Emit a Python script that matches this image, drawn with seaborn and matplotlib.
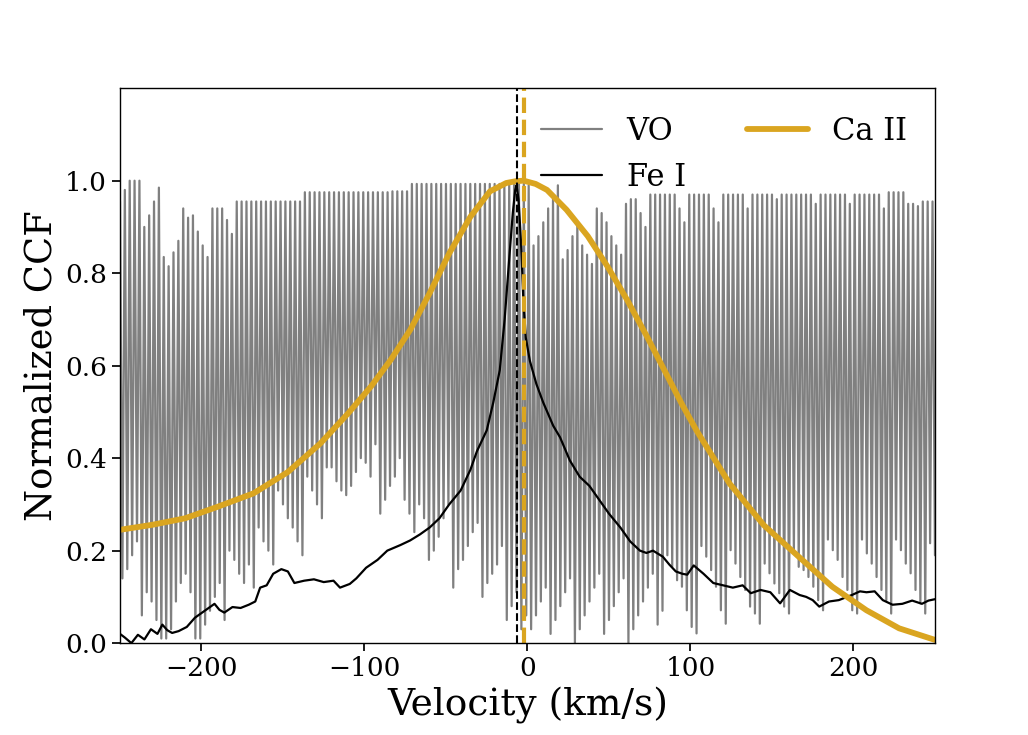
import numpy as np
import pandas as pd
import matplotlib
matplotlib.use("Agg")
import matplotlib.pyplot as plt
import seaborn as sns

# VO CCF: alternating maxima / minima of the fast oscillation, read left -> right
vo_peaks = [
    0.955, 0.98, 1.0, 1.0, 1.0, 0.90, 0.925, 0.955, 0.985, 0.835, 0.815, 0.845, 0.87, 0.94,
    0.92, 0.925, 0.89, 0.86, 0.835, 0.94, 0.94, 0.94, 0.915, 0.885, 0.955, 0.955, 0.955, 0.955,
    0.955, 0.955, 0.955, 0.955, 0.955, 0.955, 0.955, 0.955, 0.955, 0.955, 0.975, 0.975, 0.975, 0.975,
    0.975, 0.975, 0.975, 0.975, 0.975, 0.975, 0.975, 0.975, 0.975, 0.975, 0.975, 0.975, 0.975, 0.975,
    0.977, 0.977, 0.977, 0.977, 0.993, 0.993, 0.993, 0.993, 0.993, 0.993, 0.993, 0.993, 0.993, 0.993,
    0.993, 0.993, 0.993, 0.993, 0.993, 0.993, 0.993, 0.993, 0.993, 0.993, 0.993, 0.993, 0.993, 0.993,
    0.99, 0.86, 0.88, 0.91, 0.94, 0.96, 0.99, 0.83, 0.85, 0.88, 0.91, 0.86, 0.84, 0.82,
    0.94, 0.93, 0.91, 0.88, 0.86, 0.84, 0.95, 0.96, 0.96, 0.93, 0.90, 0.97, 0.97, 0.97,
    0.97, 0.97, 0.97, 0.94, 0.91, 0.97, 0.97, 0.97, 0.97, 0.97, 0.94, 0.91, 0.97, 0.97,
    0.97, 0.97, 0.97, 0.94, 0.97, 0.97, 0.97, 0.97, 0.97, 0.96, 0.97, 0.97, 0.97, 0.97,
    0.97, 0.97, 0.97, 0.95, 0.97, 0.97, 0.97, 0.97, 0.97, 0.97, 0.95, 0.97, 0.97, 0.97,
    0.97, 0.97, 0.97, 0.94, 0.975, 0.975, 0.975, 0.975, 0.95, 0.95, 0.945, 0.955, 0.955, 0.955,
]
vo_troughs = [
    0.14, 0.16, 0.19, 0.22, 0.06, 0.11, 0.09, 0.05, 0.01, 0.01, 0.03, 0.09, 0.13, 0.15,
    0.11, 0.01, 0.01, 0.04, 0.07, 0.10, 0.13, 0.05, 0.20, 0.18, 0.15, 0.13, 0.17, 0.12,
    0.25, 0.22, 0.20, 0.17, 0.33, 0.30, 0.27, 0.25, 0.22, 0.19, 0.36, 0.33, 0.30, 0.27,
    0.38, 0.38, 0.35, 0.33, 0.32, 0.34, 0.37, 0.40, 0.39, 0.36, 0.43, 0.28, 0.31, 0.34,
    0.36, 0.40, 0.31, 0.28, 0.24, 0.30, 0.27, 0.18, 0.20, 0.23, 0.27, 0.30, 0.12, 0.16,
    0.18, 0.21, 0.24, 0.26, 0.10, 0.13, 0.15, 0.17, 0.21, 0.05, 0.08, 0.11, 0.03, 0.06,
    0.03, 0.06, 0.09, 0.12, 0.02, 0.05, 0.08, 0.11, 0.14, 0.00, 0.03, 0.06, 0.09, 0.12,
    0.15, 0.02, 0.05, 0.08, 0.11, 0.14, 0.00, 0.03, 0.06, 0.09, 0.12, 0.15, 0.04, 0.07,
    0.19, 0.165, 0.136, 0.122, 0.071, 0.035, 0.021, 0.21, 0.187, 0.158, 0.122, 0.071, 0.042, 0.201,
    0.172, 0.143, 0.115, 0.079, 0.064, 0.042, 0.172, 0.151, 0.129, 0.108, 0.079, 0.064, 0.194, 0.165,
    0.158, 0.143, 0.122, 0.093, 0.071, 0.224, 0.201, 0.18, 0.143, 0.115, 0.071, 0.064, 0.224, 0.194,
    0.172, 0.143, 0.115, 0.093, 0.064, 0.224, 0.201, 0.172, 0.151, 0.115, 0.086, 0.064, 0.216, 0.19,
]

# Fe I CCF
fe_v = [-250, -247, -243, -239, -235, -231, -227, -224, -221, -218, -214, -209, -204, -198,
        -192, -189, -186, -181, -176, -171, -167, -164, -160, -156, -151, -147, -143, -137,
        -131, -125, -119, -115, -109, -105, -99, -92, -86, -78, -72, -66, -60, -54,
        -48, -41, -35, -31, -25, -21, -17, -14, -11, -9, -7.5, -6.7, -5.5, -4,
        -2.5, -1, 1.5, 5.5, 9.7, 15.8, 20, 26, 32, 38, 44, 50, 57, 63,
        69, 73, 77, 83, 87, 91, 95, 98, 102, 108, 114, 120, 126, 132,
        137, 143, 149, 155, 161, 167, 171, 175, 179, 185, 191, 199, 204, 208,
        213, 218, 224, 230, 236, 242, 246, 250]
fe_ccf = [0.02, 0.012, 0.0, 0.018, 0.008, 0.03, 0.02, 0.04, 0.028, 0.022, 0.026, 0.035, 0.055, 0.07,
          0.085, 0.072, 0.066, 0.078, 0.076, 0.083, 0.09, 0.12, 0.125, 0.15, 0.16, 0.155, 0.13, 0.135,
          0.138, 0.132, 0.135, 0.12, 0.128, 0.14, 0.163, 0.18, 0.2, 0.212, 0.222, 0.235, 0.25, 0.27,
          0.3, 0.33, 0.375, 0.415, 0.46, 0.52, 0.59, 0.70, 0.84, 0.93, 0.98, 0.99, 0.96, 0.87,
          0.74, 0.66, 0.61, 0.56, 0.52, 0.47, 0.445, 0.395, 0.36, 0.34, 0.31, 0.28, 0.25, 0.22,
          0.20, 0.195, 0.2, 0.187, 0.17, 0.155, 0.15, 0.148, 0.168, 0.15, 0.13, 0.125, 0.12, 0.125,
          0.108, 0.115, 0.11, 0.086, 0.115, 0.104, 0.1, 0.093, 0.079, 0.09, 0.093, 0.104, 0.112, 0.11,
          0.112, 0.093, 0.083, 0.085, 0.092, 0.085, 0.092, 0.095]

# Ca II CCF
ca_v = [-250, -230, -210, -190, -168, -147, -127, -110, -96, -84, -72, -60, -48, -35,
        -23, -13, -7, -2.3, 5, 12, 24, 37, 49, 61, 73, 84, 95, 104, 124, 145, 167,
        187, 208, 228, 250]
ca_ccf = [0.245, 0.256, 0.27, 0.295, 0.324, 0.37, 0.432, 0.497, 0.555, 0.612, 0.677, 0.757, 0.843, 0.922,
          0.977, 0.995, 0.999, 1.0, 0.993, 0.98, 0.937, 0.88, 0.815, 0.743, 0.665, 0.59, 0.515, 0.458, 0.345,
          0.255, 0.185, 0.122, 0.071, 0.032, 0.007]

fe_center = -6.7
ca_center = -2.3

# interleave VO maxima/minima on an even velocity grid
vo_vals = np.column_stack([vo_peaks, vo_troughs]).ravel()
vo_v = np.linspace(-250, 250, len(vo_vals))
vo_df = pd.DataFrame({"v": vo_v, "ccf": vo_vals})
fe_df = pd.DataFrame({"v": fe_v, "ccf": fe_ccf})
ca_df = pd.DataFrame({"v": ca_v, "ccf": ca_ccf})

sns.set_theme(style="ticks")
plt.rcParams["font.family"] = ["DejaVu Serif"]
plt.rcParams["mathtext.fontset"] = "dejavuserif"
for key in ["text.color", "axes.labelcolor", "xtick.color", "ytick.color", "axes.edgecolor"]:
    plt.rcParams[key] = "black"

fig = plt.figure(figsize=(10.28, 7.35), dpi=100)
ax = fig.add_axes([0.1167, 0.125, 0.7928, 0.755])

sns.lineplot(data=vo_df, x="v", y="ccf", ax=ax, color="gray", lw=1.6,
             estimator=None, sort=False, label="VO")
sns.lineplot(data=fe_df, x="v", y="ccf", ax=ax, color="black", lw=1.6,
             estimator=None, sort=False, label="Fe I")
sns.lineplot(data=ca_df, x="v", y="ccf", ax=ax, color="goldenrod", lw=4.2,
             estimator=None, sort=False, label="Ca II")
ax.axvline(fe_center, color="black", ls="--", lw=1.5)
ax.axvline(ca_center, color="goldenrod", ls="--", lw=3)

ax.set_xlim(-250, 250)
ax.set_ylim(0, 1.2)
ax.set_yticks([0.0, 0.2, 0.4, 0.6, 0.8, 1.0])
ax.set_xlabel("Velocity (km/s)", fontsize=27)
ax.set_ylabel("Normalized CCF", fontsize=26.5)
ax.tick_params(labelsize=19)
for s in ax.spines.values():
    s.set_linewidth(1.0)

ax.legend(loc="upper right", ncol=2, frameon=False, fontsize=22)

fig.savefig("out.png", dpi=100)
